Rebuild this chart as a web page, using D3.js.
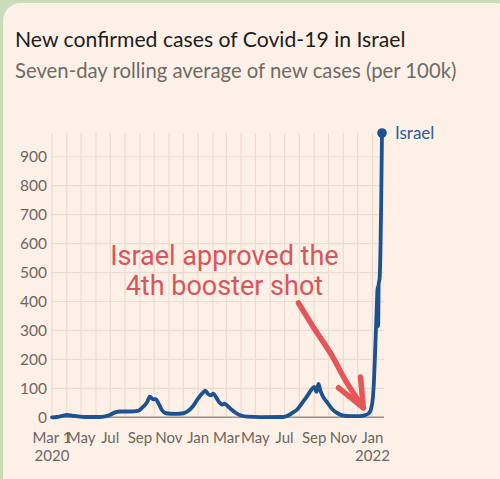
<!DOCTYPE html>
<html><head><meta charset="utf-8">
<script src="https://cdn.jsdelivr.net/npm/d3@7"></script>
<style>
html,body{margin:0;padding:0;background:#c9dcb9;}
svg{display:block;}
</style></head><body>
<svg id="chart" width="500" height="479"></svg>
<script>
const title = "New confirmed cases of Covid-19 in Israel";
const subtitle = "Seven-day rolling average of new cases (per 100k)";
const seriesName = "Israel";
const annotationLines = ["Israel approved the", "4th booster shot"];

const dates = [
 "2020-03-01","2020-03-11","2020-03-22","2020-04-01","2020-04-12","2020-04-24","2020-05-09","2020-06-09",
 "2020-06-20","2020-06-30","2020-07-11","2020-07-21","2020-08-11","2020-08-28","2020-09-07","2020-09-16",
 "2020-09-22","2020-09-29","2020-10-04","2020-10-11","2020-10-17","2020-10-26","2020-11-14","2020-12-01",
 "2020-12-11","2020-12-22","2021-01-01","2021-01-11","2021-01-16","2021-01-22","2021-01-28","2021-02-02",
 "2021-02-08","2021-02-14","2021-02-21","2021-02-25","2021-03-03","2021-03-11","2021-03-22","2021-04-01",
 "2021-04-14","2021-05-11","2021-06-28","2021-07-07","2021-07-17","2021-07-28","2021-08-07","2021-08-18",
 "2021-08-26","2021-09-01","2021-09-06","2021-09-10","2021-09-14","2021-09-20","2021-09-29","2021-10-09",
 "2021-10-20","2021-10-30","2021-11-16","2021-12-06","2021-12-17","2021-12-25","2021-12-30","2022-01-02",
 "2022-01-04","2022-01-06","2022-01-08","2022-01-10","2022-01-12","2022-01-13","2022-01-14","2022-01-16",
 "2022-01-18","2022-01-19","2022-01-21"
];
const cases = [
 0,1,5,8,6,3,1,1,
 3,8,17,20,20,22,35,52,
 71,62,63,45,25,14,12,14,
 22,40,65,85,92,80,76,82,
 68,52,44,47,40,28,14,6,
 2,0.5,1,5,15,28,50,75,
 95,105,88,115,92,70,50,28,
 14,7,4,4,8,15,35,70,
 120,200,290,380,450,315,460,480,
 600,705,982
];

const yTicks = [0,100,200,300,400,500,600,700,800,900];
const xTickDates = ["2020-03-01","2020-05-01","2020-07-01","2020-09-01","2020-11-01","2021-01-01",
                    "2021-03-01","2021-05-01","2021-07-01","2021-09-01","2021-11-01","2022-01-01"];
const xTickLabels = ["Mar 1","May","Jul","Sep","Nov","Jan","Mar","May","Jul","Sep","Nov","Jan"];
const xTickYears  = ["2020","","","","","","","","","","","2022"];

// annotation arrow, in data coordinates [date, value]
const arrowShaft = [["2021-07-30",395],["2021-08-30",312],["2021-10-05",222],["2021-11-09",118],["2021-12-13",33]];
const arrowHead  = [["2021-10-22",102],["2021-12-13",33],["2021-12-07",139]];
const annotationAnchor = ["2021-02-25", 526];

const parse = d3.utcParse("%Y-%m-%d");
const data = dates.map((d,i)=>({date:parse(d), value:cases[i]}));

const svg = d3.select("#chart");
// card
svg.append("rect").attr("x",3).attr("y",3).attr("width",510).attr("height",500)
  .attr("rx",18).attr("fill","#fdf1e7");

const x = d3.scaleUtc().domain([parse("2020-03-01"), data[data.length-1].date]).range([52, 382]);
const y = d3.scaleLinear().domain([0, d3.max(cases)]).range([417.3, 133]);

const gridColor = "#ecdccf";
// vertical monthly grid
const months = d3.utcMonth.range(parse("2020-03-01"), d3.utcDay.offset(x.domain()[1],1));
svg.append("g").selectAll("line").data(months).join("line")
  .attr("x1",d=>x(d)).attr("x2",d=>x(d)).attr("y1",y.range()[1]).attr("y2",y(0))
  .attr("stroke",gridColor).attr("stroke-width",1.2);
// horizontal grid
svg.append("g").selectAll("line").data(yTicks.filter(v=>v>0)).join("line")
  .attr("x1",52).attr("x2",384).attr("y1",d=>y(d)).attr("y2",d=>y(d))
  .attr("stroke",gridColor).attr("stroke-width",1.2);
// zero line
svg.append("line").attr("x1",52).attr("x2",384).attr("y1",y(0)).attr("y2",y(0))
  .attr("stroke","#9b9088").attr("stroke-width",1.5);

const labelColor = "#6d6661";
const fontMain = "Lato, 'Open Sans', sans-serif";
// y labels
svg.append("g").selectAll("text").data(yTicks).join("text")
  .attr("x",47).attr("y",d=>y(d)+5.5).attr("text-anchor","end")
  .attr("font-family",fontMain).attr("font-size",15.5).attr("fill",labelColor)
  .text(d=>d);
// x labels
const xg = svg.append("g");
xTickDates.forEach((d,i)=>{
  const px = x(parse(d));
  xg.append("text").attr("x",px).attr("y",443).attr("text-anchor","middle")
    .attr("font-family",fontMain).attr("font-size",15).attr("fill",labelColor).text(xTickLabels[i]);
  if (xTickYears[i]) xg.append("text").attr("x",px).attr("y",461).attr("text-anchor","middle")
    .attr("font-family",fontMain).attr("font-size",15).attr("fill",labelColor).text(xTickYears[i]);
});

// line
const line = d3.line().x(d=>x(d.date)).y(d=>y(d.value)).curve(d3.curveMonotoneX);
svg.append("path").datum(data).attr("d",line).attr("fill","none")
  .attr("stroke","#1c5193").attr("stroke-width",3.8).attr("stroke-linejoin","round").attr("stroke-linecap","round");
const last = data[data.length-1];
svg.append("circle").attr("cx",x(last.date)).attr("cy",y(last.value)).attr("r",4.8).attr("fill","#1c5193");
svg.append("text").attr("x",x(last.date)+13).attr("y",y(last.value)+6)
  .attr("font-family",fontMain).attr("font-size",17).attr("fill","#2b5e9e").text(seriesName);

// title
svg.append("text").attr("x",15).attr("y",47).attr("font-family",fontMain).attr("font-size",21.2)
  .attr("fill","#1d1d1d").text(title);
svg.append("text").attr("x",15).attr("y",78).attr("font-family",fontMain).attr("font-size",20.3)
  .attr("fill","#6f6a66").text(subtitle);

// annotation
const ax = x(parse(annotationAnchor[0])), ay = y(annotationAnchor[1]);
annotationLines.forEach((t,i)=>{
  svg.append("text").attr("x",ax).attr("y",ay+i*30).attr("text-anchor","middle")
    .attr("font-family","Roboto, sans-serif").attr("font-size",27).attr("fill","#d6565e").text(t);
});
const aLine = d3.line().x(d=>x(parse(d[0]))).y(d=>y(d[1]));
svg.append("path").attr("d",aLine.curve(d3.curveCatmullRom)(arrowShaft)).attr("fill","none")
  .attr("stroke","#e5555a").attr("stroke-width",5.5).attr("stroke-linecap","round");
svg.append("path").attr("d",d3.line().x(d=>x(parse(d[0]))).y(d=>y(d[1]))(arrowHead)).attr("fill","none")
  .attr("stroke","#e5555a").attr("stroke-width",5.5).attr("stroke-linecap","round").attr("stroke-linejoin","round");
</script>
</body></html>
